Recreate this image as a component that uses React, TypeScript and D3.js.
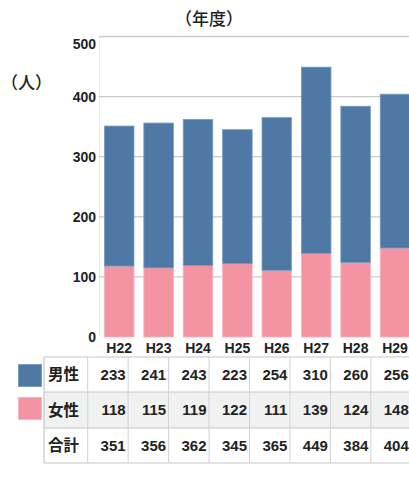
import React from "react";
import * as d3 from "d3";

const categories = ["H22", "H23", "H24", "H25", "H26", "H27", "H28", "H29"];
const male = [233, 241, 243, 223, 254, 310, 260, 256];
const female = [118, 115, 119, 122, 111, 139, 124, 148];
const total = [351, 356, 362, 345, 365, 449, 384, 404];
const yTicks = [0, 100, 200, 300, 400, 500];
const rowLabels = ["男性", "女性", "合計"];

const BLUE = "#4e79a5";
const PINK = "#f493a2";
const JP = "'Noto Sans CJK JP', 'Noto Sans', sans-serif";
const NUM = "'Liberation Sans', Arial, sans-serif";

export default function App() {
  const W = 409, H = 481;
  const y = d3.scaleLinear().domain([0, 500]).range([337, 36.5]);
  const x = d3.scaleBand<string>().domain(categories).range([99.5, 414.7]).paddingInner(0.25).paddingOuter(0.125);
  const tx = d3.scaleBand<string>().domain(categories).range([87.7, 87.7 + 8 * 40.45]);
  const tableLeft = 44;
  const rowY = [357, 392, 428, 463];
  const rows = [male, female, total];

  return (
    <svg width={W} height={H} style={{ position: "absolute", left: 0, top: 0, background: "#fff" }}>
      <text x={209} y={25} textAnchor="middle" fontFamily={JP} fontSize={17} fontWeight={500} fill="#222">（年度）</text>
      <text x={1} y={89} fontFamily={JP} fontSize={17} fontWeight={500} fill="#222">（人）</text>
      <line x1={99.5} x2={99.5} y1={36.5} y2={337} stroke="#eeeeee" />
      {yTicks.map((t) => (
        <g key={t}>
          {t > 0 && <line x1={99} x2={W} y1={y(t)} y2={y(t)} stroke="#c9c9c9" strokeWidth={1.3} />}
          <text x={96} y={y(t) + (t === 500 ? 7 : 0)} dy="0.36em" textAnchor="end" fontFamily={NUM} fontWeight="bold" fontSize={14} fill="#222">{t}</text>
        </g>
      ))}
      {categories.map((c, i) => (
        <g key={c}>
          <rect x={x(c)!} width={x.bandwidth()} y={y(female[i])} height={y(0) - y(female[i])} fill={PINK} stroke="#f7b3be" strokeWidth={0.8} />
          <rect x={x(c)!} width={x.bandwidth()} y={y(female[i] + male[i])} height={y(female[i]) - y(female[i] + male[i])} fill={BLUE} stroke="#7a9cc0" strokeWidth={0.8} />
          <text x={x(c)! + x.bandwidth() / 2} y={353} textAnchor="middle" fontFamily={NUM} fontWeight="bold" fontSize={14} fill="#222">{c}</text>
        </g>
      ))}
      {/* table */}
      <rect x={tableLeft} y={rowY[1]} width={W - tableLeft} height={rowY[2] - rowY[1]} fill="#f0f1f1" />
      {rowY.map((ry, i) => (
        <line key={i} x1={tableLeft} x2={W} y1={ry} y2={ry} stroke="#c6c6c6" strokeWidth={1.2} />
      ))}
      <line x1={tableLeft} x2={tableLeft} y1={rowY[0]} y2={rowY[3]} stroke="#c6c6c6" strokeWidth={1.2} />
      {categories.map((c) => (
        <line key={c} x1={tx(c)!} x2={tx(c)!} y1={rowY[0]} y2={rowY[3]} stroke="#d2d2d2" strokeWidth={1} />
      ))}
      <rect x={18.5} y={364.5} width={23} height={22} fill={BLUE} stroke="#7a9cc0" />
      <rect x={18.5} y={397.5} width={23} height={22} fill={PINK} stroke="#f7b3be" />
      {rows.map((vals, r) => {
        const cy = (rowY[r] + rowY[r + 1]) / 2;
        return (
          <g key={r}>
            <text x={48} y={cy} dy="0.36em" fontFamily={JP} fontWeight="bold" fontSize={15.5} fill="#222">{rowLabels[r]}</text>
            {categories.map((c, i) => (
              <text key={c} x={tx(c)! + tx.bandwidth() - 2.5} y={cy} dy="0.36em" textAnchor="end" fontFamily={NUM} fontWeight="bold" fontSize={15} fill="#222">{vals[i]}</text>
            ))}
          </g>
        );
      })}
    </svg>
  );
}
